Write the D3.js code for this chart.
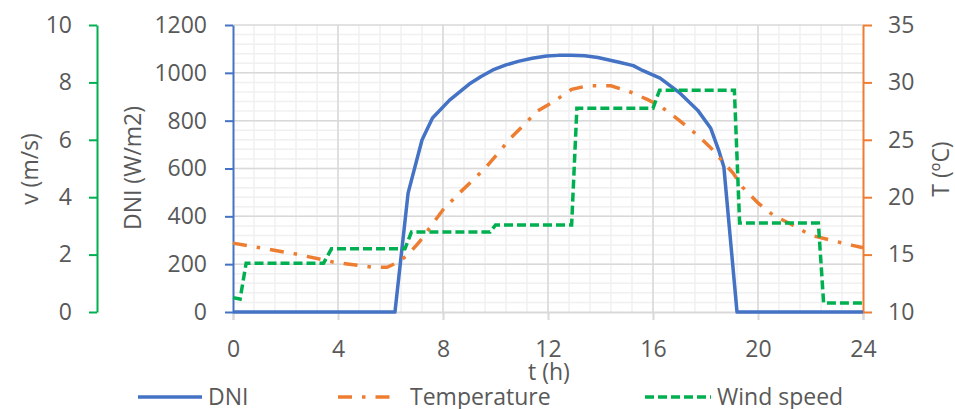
<!DOCTYPE html>
<html>
<head>
<meta charset="utf-8">
<script src="https://cdn.jsdelivr.net/npm/d3@7"></script>
<style>
  html, body { margin: 0; padding: 0; background: #fff; }
  svg text { font-family: "Open Sans", sans-serif; fill: #595959; }
</style>
</head>
<body>
<svg id="chart" width="955" height="409"></svg>
<script>
// Hourly profiles over one day
const dniHours = [0, 6.17, 6.67, 7.2, 7.6, 8.25, 9, 9.45, 9.9, 10.4, 10.9, 11.4, 11.95, 12.4, 12.85, 13.4, 13.9, 14.75, 15.25, 15.6, 16.27, 17.03, 17.7, 18.2, 18.5, 18.7, 19.2, 24];
const dniValues = [0, 0, 497, 719, 811, 886, 953, 985, 1012, 1033, 1049, 1061, 1070, 1073, 1074, 1071, 1064, 1043, 1030, 1010, 978, 915, 844, 768, 677, 606, 0, 0];

const tempHours = [0, 2.4, 3.8, 5.3, 5.87, 6.3, 6.67, 7.1, 7.58, 8.0, 8.55, 9.6, 10.6, 11.6, 12.2, 12.9, 13.5, 14.4, 15.1, 15.8, 16.3, 17.0, 17.7, 18.2, 18.7, 19.05, 19.4, 20.0, 20.6, 21.3, 22.0, 22.7, 23.6, 24];
const tempValues = [16.0, 15.05, 14.36, 13.9, 13.9, 14.35, 15.0, 16.1, 17.6, 18.9, 20.2, 22.5, 25.2, 27.5, 28.3, 29.4, 29.7, 29.7, 29.2, 28.5, 27.9, 26.7, 25.4, 24.3, 23.0, 22.1, 20.9, 19.5, 18.4, 17.6, 16.7, 16.3, 15.8, 15.6];

const windHours = [0, 0.27, 0.5, 3.45, 3.75, 6.55, 6.8, 9.8, 10.0, 12.9, 13.1, 16.0, 16.25, 19.1, 19.3, 22.3, 22.5, 24];
const windValues = [0.5, 0.45, 1.7, 1.7, 2.2, 2.2, 2.79, 2.79, 3.03, 3.03, 7.1, 7.1, 7.73, 7.73, 3.1, 3.1, 0.31, 0.31];

const hourTicks = [0, 4, 8, 12, 16, 20, 24];
const dniTicks = [0, 200, 400, 600, 800, 1000, 1200];
const tempTicks = [10, 15, 20, 25, 30, 35];
const windTicks = [0, 2, 4, 6, 8, 10];

const seriesNames = ["DNI", "Temperature", "Wind speed"];

const BLUE = "#4472C4", ORANGE = "#ED7D31", GREEN = "#00B050";
const FONT = "23px";

const svg = d3.select("#chart");
const plotLeft = 233, plotRight = 863, plotTop = 25, plotBottom = 312;

const x = d3.scaleLinear().domain([0, 24]).range([plotLeft, plotRight]);
const yD = d3.scaleLinear().domain([0, 1200]).range([plotBottom, plotTop]);
const yT = d3.scaleLinear().domain([10, 35]).range([plotBottom, plotTop]);
const yV = d3.scaleLinear().domain([0, 10]).range([plotBottom, plotTop]);
const plain = d3.format("d");

// Gridlines: minor every 0.8 h / 40 W/m2, major at the labelled ticks
const grid = svg.append("g");
grid.selectAll(".vminor").data(d3.range(1, 30).map(i => i * 0.8))
  .join("line").attr("x1", d => x(d)).attr("x2", d => x(d))
  .attr("y1", plotTop).attr("y2", plotBottom)
  .attr("stroke", "#f0f0f0").attr("stroke-width", 1.5);
grid.selectAll(".hminor").data(d3.range(1, 30).map(i => i * 40))
  .join("line").attr("x1", plotLeft).attr("x2", plotRight)
  .attr("y1", d => yD(d)).attr("y2", d => yD(d))
  .attr("stroke", "#f0f0f0").attr("stroke-width", 1.5);
grid.selectAll(".vmajor").data(hourTicks.slice(1, -1))
  .join("line").attr("x1", d => x(d)).attr("x2", d => x(d))
  .attr("y1", plotTop).attr("y2", plotBottom)
  .attr("stroke", "#d9d9d9").attr("stroke-width", 1.5);
grid.selectAll(".hmajor").data(dniTicks.slice(1))
  .join("line").attr("x1", plotLeft).attr("x2", plotRight)
  .attr("y1", d => yD(d)).attr("y2", d => yD(d))
  .attr("stroke", "#d9d9d9").attr("stroke-width", 1.5);

function styleAxis(g, color) {
  g.select(".domain").attr("stroke", color).attr("stroke-width", 2);
  g.selectAll(".tick line").attr("stroke", color).attr("stroke-width", 2);
  g.selectAll(".tick text").style("font-size", FONT).attr("fill", "#595959");
}

// Horizontal time axis
const xAxis = svg.append("g").attr("transform", `translate(0,${plotBottom})`)
  .call(d3.axisBottom(x).tickValues(hourTicks).tickFormat(plain).tickSize(8).tickPadding(21));
styleAxis(xAxis, "#d9d9d9");

// DNI axis (left, inner)
const aD = svg.append("g").attr("transform", `translate(${plotLeft},0)`)
  .call(d3.axisLeft(yD).tickValues(dniTicks).tickFormat(plain).tickSize(8).tickPadding(18).tickSizeOuter(0));
styleAxis(aD, BLUE);

// Wind speed axis (left, outer)
const aV = svg.append("g").attr("transform", "translate(97,0)")
  .call(d3.axisLeft(yV).tickValues(windTicks).tickFormat(plain).tickSize(8).tickPadding(17).tickSizeOuter(0));
styleAxis(aV, GREEN);

// Temperature axis (right)
const aT = svg.append("g").attr("transform", `translate(${plotRight},0)`)
  .call(d3.axisRight(yT).tickValues(tempTicks).tickFormat(plain).tickSize(9).tickPadding(16).tickSizeOuter(0));
styleAxis(aT, ORANGE);

// Axis titles (rotated; dy centres the capitals on the given x)
function vTitle(cx, cy, text) {
  svg.append("text").attr("transform", `translate(${cx},${cy}) rotate(-90)`)
    .attr("text-anchor", "middle").attr("dy", "0.36em")
    .style("font-size", FONT).text(text);
}
vTitle(30, 169, "v (m/s)");
vTitle(133, 168, "DNI (W/m2)");
vTitle(941, 169, "T (ºC)");
svg.append("text").attr("x", 549).attr("y", 380).attr("text-anchor", "middle")
  .style("font-size", FONT).text("t (h)");

// Series
const line = (xs, ys, yScale) => d3.line()
  .x((d, i) => x(xs[i])).y((d, i) => yScale(ys[i]))(ys);

svg.append("path").attr("d", line(dniHours, dniValues, yD))
  .attr("fill", "none").attr("stroke", BLUE).attr("stroke-width", 3.5)
  .attr("stroke-linejoin", "round");
svg.append("path").attr("d", line(tempHours, tempValues, yT))
  .attr("fill", "none").attr("stroke", ORANGE).attr("stroke-width", 3.5)
  .attr("stroke-dasharray", "14,10,3.5,10");
svg.append("path").attr("d", line(windHours, windValues, yV))
  .attr("fill", "none").attr("stroke", GREEN).attr("stroke-width", 3.5)
  .attr("stroke-dasharray", "9,4");

// Legend
const legendY = 397;
const legend = [
  { name: seriesNames[0], x0: 138, x1: 202, tx: 208, color: BLUE, dash: null },
  { name: seriesNames[1], x0: 338, x1: 392, tx: 410, color: ORANGE, dash: "14,10,3.5,10" },
  { name: seriesNames[2], x0: 645, x1: 711, tx: 717, color: GREEN, dash: "9,4" }
];
legend.forEach(l => {
  svg.append("line").attr("x1", l.x0).attr("x2", l.x1).attr("y1", legendY).attr("y2", legendY)
    .attr("stroke", l.color).attr("stroke-width", 3.5)
    .attr("stroke-dasharray", l.dash);
  svg.append("text").attr("x", l.tx).attr("y", legendY).attr("dy", "0.36em")
    .style("font-size", FONT).text(l.name);
});
</script>
</body>
</html>
